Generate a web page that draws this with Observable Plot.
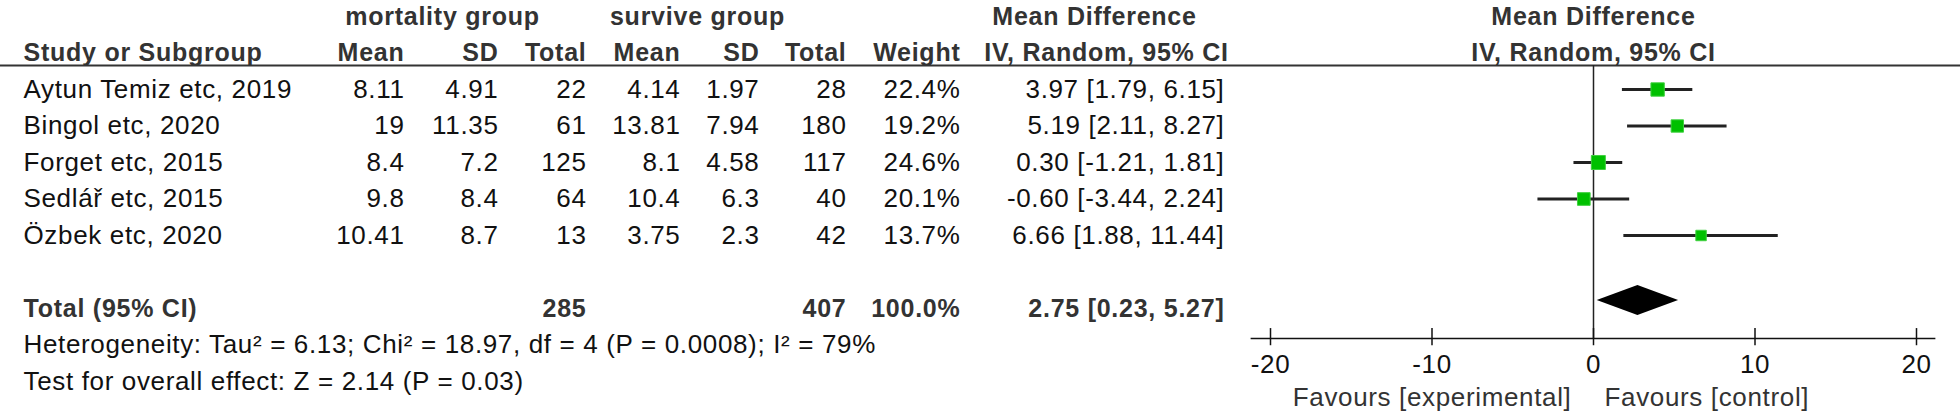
<!DOCTYPE html>
<html>
<head>
<meta charset="utf-8">
<script src="https://cdn.jsdelivr.net/npm/d3@7"></script>
<script src="https://cdn.jsdelivr.net/npm/@observablehq/plot@0.6"></script>
<style>
  html, body { margin: 0; padding: 0; background: #fff; }
  #chart svg { display: block; }
  #chart .reg text { letter-spacing: 0.65px; }
  #chart .bold text { letter-spacing: 0.75px; }
</style>
</head>
<body>
<div id="chart"></div>
<script>
// ---- data ----
const studies   = ["Aytun Temiz etc, 2019", "Bingol etc, 2020", "Forget etc, 2015", "Sedlář etc, 2015", "Özbek etc, 2020"];
const mortMean  = [8.11, 19, 8.4, 9.8, 10.41];
const mortSD    = [4.91, 11.35, 7.2, 8.4, 8.7];
const mortTotal = [22, 61, 125, 64, 13];
const survMean  = [4.14, 13.81, 8.1, 10.4, 3.75];
const survSD    = [1.97, 7.94, 4.58, 6.3, 2.3];
const survTotal = [28, 180, 117, 40, 42];
const weights   = [22.4, 19.2, 24.6, 20.1, 13.7];
const md        = [3.97, 5.19, 0.30, -0.60, 6.66];
const ciLow     = [1.79, 2.11, -1.21, -3.44, 1.88];
const ciHigh    = [6.15, 8.27, 1.81, 2.24, 11.44];

const pooled    = {md: 2.75, lo: 0.23, hi: 5.27, mortTotal: 285, survTotal: 407, weight: 100.0};
const hetText   = "Heterogeneity: Tau² = 6.13; Chi² = 18.97, df = 4 (P = 0.0008); I² = 79%";
const testText  = "Test for overall effect: Z = 2.14 (P = 0.03)";
const groupHeaders = ["mortality group", "survive group", "Mean Difference"];
const colHeaders   = ["Study or Subgroup", "Mean", "SD", "Total", "Mean", "SD", "Total", "Weight", "IV, Random, 95% CI"];
const plotHeaders  = ["Mean Difference", "IV, Random, 95% CI"];
const xTicks    = [-20, -10, 0, 10, 20];
const favours   = ["Favours [experimental]", "Favours [control]"];

// ---- layout (pixels / row slots) ----
const L = {
  nameX: 23,
  cols: [404, 498, 586, 680, 759, 846, 960, 1224], // right edges
  groupCenters: [442, 697, 1094],
  ciHeadCenter: 1106,
  headerRule: 1.34, axisRow: 8.82, totalRow: 8, diamondRow: 7.78
};

const rows = studies.map((s, i) => ({
  study: s, row: i + 2,
  mM: mortMean[i], mSD: mortSD[i], mN: mortTotal[i],
  sM: survMean[i], sSD: survSD[i], sN: survTotal[i],
  w: weights[i], md: md[i], lo: ciLow[i], hi: ciHigh[i]
}));

const FONT = "'Liberation Sans', Arial, sans-serif";
const REG = {fontSize: 26, fill: "#111", className: "reg"};
const BOLD = {fontSize: 25, fontWeight: "bold", fill: "#333", className: "bold"};

const fmtCI = (m, l, h) => `${m.toFixed(2)} [${l.toFixed(2)}, ${h.toFixed(2)}]`;

const colFns = [d => String(d.mM), d => String(d.mSD), d => String(d.mN),
                d => String(d.sM), d => String(d.sSD), d => String(d.sN),
                d => d.w.toFixed(1) + "%", d => fmtCI(d.md, d.lo, d.hi)];

const marks = [];

// group headers (row 0)
groupHeaders.forEach((t, i) => marks.push(Plot.text([t], {text: d => d, y: 0, frameAnchor: "left", dx: L.groupCenters[i], textAnchor: "middle", ...BOLD})));
marks.push(Plot.text([plotHeaders[0]], {text: d => d, x: 0, y: 0, textAnchor: "middle", ...BOLD}));
// column headers (row 1)
marks.push(Plot.text([colHeaders[0]], {text: d => d, y: 1, frameAnchor: "left", dx: L.nameX, textAnchor: "start", ...BOLD}));
colHeaders.slice(1, 8).forEach((t, i) => marks.push(Plot.text([t], {text: d => d, y: 1, frameAnchor: "left", dx: L.cols[i], textAnchor: "end", ...BOLD})));
marks.push(Plot.text([colHeaders[8]], {text: d => d, y: 1, frameAnchor: "left", dx: L.ciHeadCenter, textAnchor: "middle", ...BOLD}));
marks.push(Plot.text([plotHeaders[1]], {text: d => d, x: 0, y: 1, textAnchor: "middle", ...BOLD}));

// header rule
marks.push(Plot.ruleY([L.headerRule], {stroke: "#333", strokeWidth: 2}));

// study rows
marks.push(Plot.text(rows, {text: "study", y: "row", frameAnchor: "left", dx: L.nameX, textAnchor: "start", ...REG}));
colFns.forEach((fn, i) => marks.push(Plot.text(rows, {text: fn, y: "row", frameAnchor: "left", dx: L.cols[i], textAnchor: "end", ...REG})));

// total row
const tot = [pooled];
marks.push(Plot.text(["Total (95% CI)"], {text: d => d, y: L.totalRow, frameAnchor: "left", dx: L.nameX, textAnchor: "start", ...BOLD}));
marks.push(Plot.text(tot, {text: d => String(d.mortTotal), y: L.totalRow, frameAnchor: "left", dx: L.cols[2], textAnchor: "end", ...BOLD}));
marks.push(Plot.text(tot, {text: d => String(d.survTotal), y: L.totalRow, frameAnchor: "left", dx: L.cols[5], textAnchor: "end", ...BOLD}));
marks.push(Plot.text(tot, {text: d => d.weight.toFixed(1) + "%", y: L.totalRow, frameAnchor: "left", dx: L.cols[6], textAnchor: "end", ...BOLD}));
marks.push(Plot.text(tot, {text: d => fmtCI(d.md, d.lo, d.hi), y: L.totalRow, frameAnchor: "left", dx: L.cols[7], textAnchor: "end", ...BOLD}));

// heterogeneity & test
marks.push(Plot.text([hetText], {text: d => d, y: 9, frameAnchor: "left", dx: L.nameX, textAnchor: "start", ...REG}));
marks.push(Plot.text([testText], {text: d => d, y: 10, frameAnchor: "left", dx: L.nameX, textAnchor: "start", ...REG}));

// forest: zero line, axis
marks.push(Plot.ruleX([0], {y1: L.headerRule, y2: L.axisRow, stroke: "#222", strokeWidth: 1.5}));
marks.push(Plot.ruleY([L.axisRow], {x1: -21.2, x2: 21.2, stroke: "#111", strokeWidth: 1.5}));
marks.push(Plot.ruleX(xTicks, {x: d => d, y1: L.axisRow - 0.27, y2: L.axisRow + 0.2, stroke: "#111", strokeWidth: 1.5}));
marks.push(Plot.text(xTicks, {x: d => d, y: 9.54, text: d => String(d), ...REG}));
marks.push(Plot.text([favours[0]], {x: 0, y: 10.44, text: d => d, textAnchor: "end", dx: -22, fontSize: 26, fill: "#333", className: "reg"}));
marks.push(Plot.text([favours[1]], {x: 0, y: 10.44, text: d => d, textAnchor: "start", dx: 11, fontSize: 26, fill: "#333", className: "reg"}));

// CI lines & squares
marks.push(Plot.ruleY(rows, {y: "row", x1: "lo", x2: "hi", stroke: "#222", strokeWidth: 3}));
marks.push(Plot.dot(rows, {x: "md", y: "row", r: "w", symbol: "square", fill: "#00c000", stroke: "#3fd03f", strokeWidth: 1}));

// diamond
const dh = 0.41;
const diamond = [
  {x: pooled.lo, y1: L.diamondRow, y2: L.diamondRow},
  {x: pooled.md, y1: L.diamondRow - dh, y2: L.diamondRow + dh},
  {x: pooled.hi, y1: L.diamondRow, y2: L.diamondRow}
];
marks.push(Plot.areaY(diamond, {x: "x", y1: "y1", y2: "y2", fill: "#000", curve: "linear"}));

const chart = Plot.plot({
  width: 1960, height: 415, margin: 0,
  x: {domain: [-20, 20], range: [1270, 1916], axis: null},
  y: {domain: [0, 10], range: [16, 381], axis: null},
  r: {domain: [0, 24.6], range: [0, 7.9]},
  style: {fontFamily: FONT, background: "#fff", overflow: "visible"},
  marks
});
document.getElementById("chart").appendChild(chart);
</script>
</body>
</html>
